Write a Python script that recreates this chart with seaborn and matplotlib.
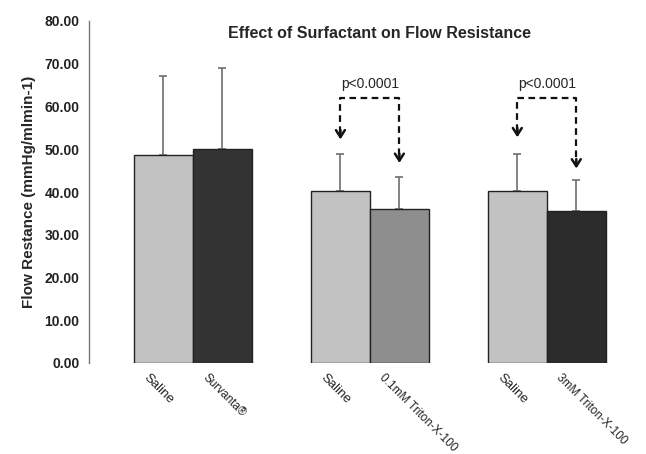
import seaborn as sns
import pandas as pd
import matplotlib.pyplot as plt
import matplotlib.transforms as mtransforms

# Data
labels = ['Saline', 'Survanta®', 'Saline', '0.1mM Triton-X-100', 'Saline', '3mM Triton-X-100']
positions = [0, 1, 3, 4, 6, 7]
means = [48.7, 50.1, 40.3, 36.0, 40.3, 35.5]
sd_upper = [18.4, 19.0, 8.5, 7.4, 8.5, 7.3]
bar_colors = ['#c2c2c2', '#333333', '#c2c2c2', '#8e8e8e', '#c2c2c2', '#2c2c2c']
label_sizes = [9.5, 8.5, 9.5, 8.5, 9.5, 8.5]

# significance brackets: (left bar, right bar, left arrow tip, right arrow tip)
brackets = [(3, 4, 52.3, 46.8), (6, 7, 52.8, 45.5)]
bracket_top = 62.0
p_text = 'p<0.0001'

df = pd.DataFrame({'pos': positions, 'mean': means, 'bar': [str(i) for i in range(6)]})

sns.set_style('white')
plt.rcParams['font.family'] = ['Liberation Sans', 'DejaVu Sans']

fig = plt.figure(figsize=(6.46, 4.54), dpi=100)
ax = fig.add_axes([89 / 646, 1 - 363 / 454, (640 - 89) / 646, (363 - 21) / 454])

sns.barplot(data=df, x='pos', y='mean', hue='bar', palette=bar_colors,
            native_scale=True, width=1.0, dodge=False, legend=False,
            edgecolor='#222222', linewidth=1.0, errorbar=None, ax=ax)

ax.errorbar(positions, means, yerr=[[0] * 6, sd_upper], fmt='none',
            ecolor='#6e6e6e', elinewidth=1.2, capsize=3, capthick=1.2, zorder=1)
for p in ax.patches:
    p.set_zorder(2)

# brackets with dashed arrows
for left, right, tip_l, tip_r in brackets:
    ax.plot([left, left, right, right], [tip_l + 1.5, bracket_top, bracket_top, tip_r + 1.5],
            ls=(0, (3, 2)), color='#111111', lw=1.6, zorder=3)
    for x, tip in [(left, tip_l), (right, tip_r)]:
        ax.annotate('', xy=(x, tip), xytext=(x, tip + 2.2),
                    arrowprops=dict(arrowstyle='->,head_length=0.5,head_width=0.32',
                                    color='#111111', lw=1.8, shrinkA=0, shrinkB=0))
    ax.text((left + right) / 2, 65.3, p_text, ha='center', va='center', fontsize=10)

ax.set_xlim(-1.263, 8.08)
ax.set_ylim(0, 80)
ax.set_yticks(range(0, 81, 10))
ax.set_yticklabels([f'{v:.2f}' for v in range(0, 81, 10)], fontsize=10, fontweight='bold',
                   color='#222222')
ax.set_ylabel('Flow Restance (mmHg/mlmin-1)', fontsize=11, fontweight='bold', labelpad=6)
ax.set_xlabel('')

# rotated category labels below the bars
ax.set_xticks([])
base = mtransforms.blended_transform_factory(ax.transData, ax.transAxes)
offset = mtransforms.ScaledTranslation(-14 / 100, -9 / 100, fig.dpi_scale_trans)
for x, lab, size in zip(positions, labels, label_sizes):
    ax.text(x, 0, lab, transform=base + offset, rotation=-45, rotation_mode='anchor',
            ha='left', va='top', fontsize=size, color='#222222', clip_on=False)

ax.tick_params(axis='y', length=4, width=1, color='#777777', direction='out', pad=3)
for side in ['top', 'right', 'bottom']:
    ax.spines[side].set_visible(False)
ax.spines['left'].set_color('#777777')
ax.spines['left'].set_linewidth(1)

fig.text(380 / 646, 1 - 33 / 454, 'Effect of Surfactant on Flow Resistance',
         ha='center', va='center', fontsize=11.5, fontweight='bold')

fig.savefig('out.png', dpi=100)
